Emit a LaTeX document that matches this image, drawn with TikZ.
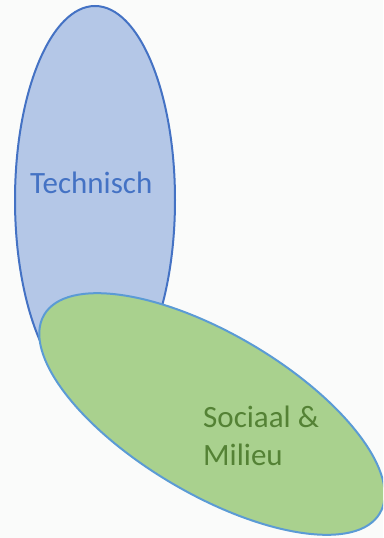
\documentclass[tikz,border=0pt]{standalone}
\usepackage{fontspec}
\setmainfont{Carlito}
\definecolor{bgc}{HTML}{FAFBFA}
\definecolor{techfill}{HTML}{B4C7E7}
\definecolor{techline}{HTML}{4472C4}
\definecolor{socfill}{HTML}{A9D18E}
\definecolor{socline}{HTML}{5B9BD5}
\definecolor{soctext}{HTML}{548235}
\tikzset{
  techell/.style={fill=techfill, draw=techline, line width=2pt},
  socell/.style={fill=socfill, draw=socline, line width=2pt},
  lbl/.style={font=\fontsize{31}{38}\selectfont, inner sep=0pt, align=left}
}
\begin{document}
\begin{tikzpicture}[x=1pt,y=-1pt]
\useasboundingbox (0,0) rectangle (383,538);
\fill[bgc] (0,0) rectangle (383,538);
\begin{scope}
\clip (0,0) rectangle (383,538);
\draw[techell] (95,200) ellipse [x radius=80, y radius=194];
\draw[socell, shift={(212,414)}, rotate=-30.6] (0,0) ellipse [x radius=195, y radius=80];
\end{scope}
\node[lbl, text=techline, anchor=base west] (tech) at (30,193) {Technisch};
\node[lbl, text=soctext, anchor=base west] (soc) at (203,465) {Sociaal \&\\Milieu};
\end{tikzpicture}
\end{document}
